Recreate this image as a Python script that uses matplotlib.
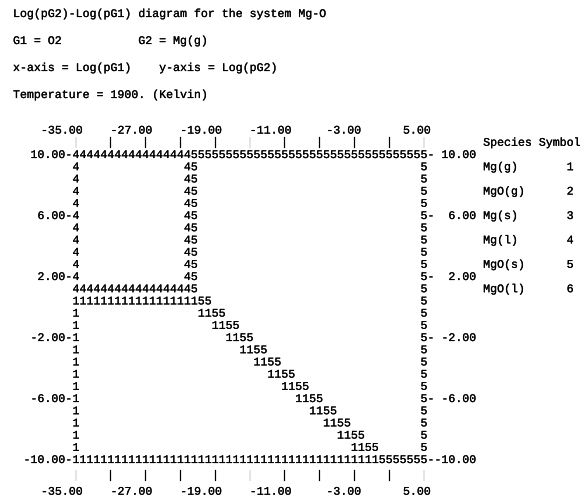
import matplotlib.pyplot as plt
import matplotlib.patheffects as pe
import numpy as np

plt.rcParams['font.family'] = ['Liberation Mono', 'DejaVu Sans Mono']
FS = 8.35
INK = [pe.withStroke(linewidth=0.15, foreground='black')]

# Header lines of the printout
header = [
    "Log(pG2)-Log(pG1) diagram for the system Mg-O",
    "G1 = O2           G2 = Mg(g)",
    "x-axis = Log(pG1)    y-axis = Log(pG2)",
    "Temperature = 1900. (Kelvin)",
]

# Species table
species = ["Mg(g)", "MgO(g)", "Mg(s)", "Mg(l)", "MgO(s)", "MgO(l)"]
symbols = [1, 2, 3, 4, 5, 6]

# x axis: Log(pO2), y axis: Log(pMg)
x_min, x_max, x_step = -35.0, 5.0, 0.8
y_min, y_max, y_step = -10.0, 10.0, 0.8
x_ticks = [-35.0, -31.0, -27.0, -23.0, -19.0, -15.0, -11.0, -7.0, -3.0, 1.0, 5.0]
x_tick_labels = [-35.0, -27.0, -19.0, -11.0, -3.0, 5.0]
y_tick_labels = [10.0, 6.0, 2.0, -2.0, -6.0, -10.0]

# Phase boundaries at 1900 K
mgl_mgos_logpo2 = -21.8       # Mg(l) + 1/2 O2 = MgO(s)
mgl_mgg_logpmg = 0.8          # Mg(l) = Mg(g)
mgg_mgos_const = -10.1        # Mg(g) + 1/2 O2 = MgO(s)
mgg_mgos_slope = -0.5


def stable_species(lpo2, lpmg):
    if lpo2 < mgl_mgos_logpo2 and lpmg > mgl_mgg_logpmg:
        return 4
    if lpmg < mgl_mgg_logpmg and lpmg < mgg_mgos_const + mgg_mgos_slope * lpo2:
        return 1
    return 5


ncol = int(round((x_max - x_min) / x_step)) + 1
nrow = int(round((y_max - y_min) / y_step)) + 1
xs = x_min + x_step * np.arange(ncol)
ys = y_max - y_step * np.arange(nrow)
grid = np.array([[stable_species(x, y) for x in xs] for y in ys])

fig = plt.figure(figsize=(5.87, 5.04), dpi=100)
W, H = 587.0, 504.0
ax = fig.add_axes([76 / W, 1 - 460 / H, 348 / W, 305 / H])
ax.set_xlim(x_min, x_max)
ax.set_ylim(y_min, y_max)
ax.axis('off')

kw = dict(fontsize=FS, color='black', va='center', clip_on=False, path_effects=INK)

# region symbols: printed along edges and where the neighbour differs
for i in range(nrow):
    for j in range(ncol):
        s = grid[i, j]
        edge = i in (0, nrow - 1) or j in (0, ncol - 1)
        if not edge:
            nb = [grid[i - 1, j], grid[i + 1, j], grid[i, j - 1], grid[i, j + 1]]
            edge = any(n != s for n in nb)
        if edge:
            ax.text(xs[j], ys[i], str(s), ha='center', **kw)


def row_y(r):
    return y_max - r * y_step


half = x_step / 2

# y labels on both sides
for v in y_tick_labels:
    ax.text(x_min - half, v, f"{v:6.2f}-", ha='right', **kw)
    ax.text(x_max + half, v, "-" + f"{v:6.2f}", ha='left', **kw)

# tick marks and x labels, top and bottom
for t in x_ticks:
    ax.text(t, row_y(-1), "|", ha='center', **kw)
    ax.text(t, row_y(26.3), "|", ha='center', **kw)
for v in x_tick_labels:
    ax.text(v + 0.8, row_y(-2), f"{v:.2f}", ha='right', **kw)
    ax.text(v + 0.8, row_y(27.6), f"{v:.2f}", ha='right', **kw)

# species table
table_x = x_min + 59 * x_step - half
ax.text(table_x, row_y(-1), "Species Symbol", ha='left', **kw)
for k, (name, sym) in enumerate(zip(species, symbols)):
    r = 1 + 2 * k
    ax.text(table_x, row_y(r), name, ha='left', **kw)
    ax.text(x_min + 71 * x_step, row_y(r), str(sym), ha='center', **kw)

# header
for k, line in enumerate(header):
    fig.text(13 / W, 1 - (14 + 27 * k) / H, line, fontsize=FS, color='black',
             va='center', ha='left', path_effects=INK)

fig.savefig('out.png', dpi=100)
